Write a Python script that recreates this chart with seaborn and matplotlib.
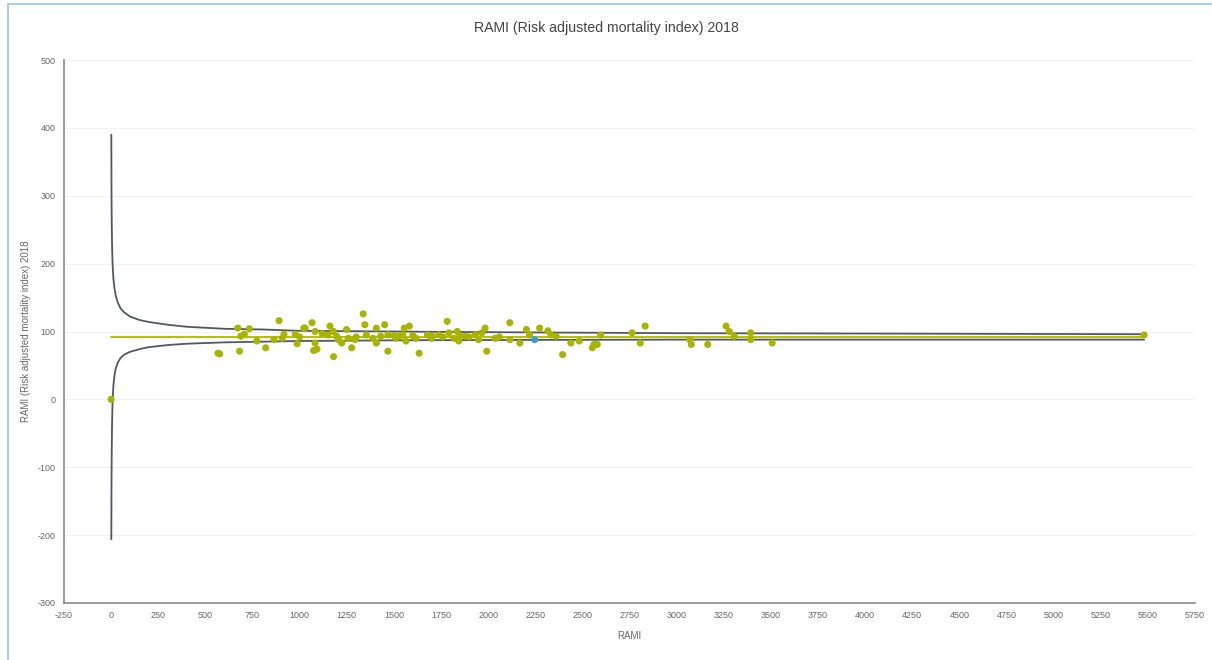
import numpy as np
import pandas as pd
import matplotlib
matplotlib.use('Agg')
import matplotlib.pyplot as plt
import seaborn as sns

# hospitals: number of cases (x) vs RAMI (y)
rami_x = [0, 567, 576, 672, 688, 681, 733, 707, 773, 820, 864, 891, 917, 908, 977, 987, 1029,
          1022, 1066, 1082, 1082, 1074, 1092, 1161, 1180, 1197, 1206, 1180, 1223, 1249, 1258,
          1276, 1293, 1337, 1346, 1354, 1389, 1407, 1407, 1451, 1468, 1468, 1512, 1547, 1555,
          1529, 1582, 1564, 1634, 1617, 1678, 1704, 1739, 1783, 1792, 1818, 1836, 1844, 1879,
          1932, 1949, 1984, 1993, 1967, 2037, 2115, 2203, 2220, 2273, 2317, 2334, 2115, 2168,
          2361, 2395, 2439, 2483, 2553, 2562, 2597, 2579, 2763, 2807, 2833, 3069, 3078, 3165,
          3262, 3279, 3305, 3393, 3393, 3507, 5480,
          1000, 1120, 1150, 1300, 1430, 1500, 1600, 1700, 1760, 1850, 1900, 2060]
rami_y = [0, 68, 67, 105, 93, 71, 104, 96, 86, 76, 88, 116, 96, 90, 96, 82, 105,
          105, 113, 100, 83, 72, 74, 108, 100, 93, 88, 63, 83, 103, 90,
          76, 88, 126, 110, 95, 90, 105, 83, 110, 95, 71, 90, 95, 105,
          93, 108, 86, 68, 90, 95, 93, 95, 115, 98, 90, 100, 86, 93,
          95, 88, 105, 71, 98, 90, 113, 103, 95, 105, 101, 95, 88, 83,
          93, 66, 83, 86, 76, 81, 95, 81, 98, 83, 108, 88, 81, 81,
          108, 100, 93, 98, 88, 83, 95,
          92, 97, 95, 92, 93, 94, 94, 90, 92, 94, 92, 92]

# the highlighted hospital
blue_x = [2247]
blue_y = [88]

# funnel control limits
limit_x = [1, 2, 3, 5, 8, 12, 18, 25, 35, 50, 70, 100, 150, 200, 300, 400, 600, 800,
           1000, 1500, 2000, 3000, 4000, 5480]
upper = [390, 303, 265, 226, 198, 178, 163, 152, 143, 134, 128, 122, 117, 114, 110, 107,
         104, 103, 101, 100, 99, 97.5, 97, 96]
lower = [-206, -120, -80, -35, 0, 20, 36, 46, 54, 61, 66, 70, 74, 77, 80, 82,
         84, 85, 86, 87, 87.5, 88, 88, 88]

# average line
mean_x = [0, 5480]
mean_y = [92.5, 92.5]

sns.set_theme(style="white")
plt.rcParams['font.family'] = ['Liberation Sans', 'DejaVu Sans']
plt.rcParams['axes.unicode_minus'] = False

fig = plt.figure(figsize=(12.12, 6.6), dpi=100)
ax = fig.add_axes([64 / 1212, 57 / 660, (1195 - 64) / 1212, (603 - 60) / 660])

ax.grid(axis='y', color='#f2f2f2', linewidth=0.8)
ax.set_axisbelow(True)

sns.lineplot(x=limit_x, y=upper, ax=ax, color='#4f5864', linewidth=1.3)
sns.lineplot(x=limit_x, y=lower, ax=ax, color='#4f5864', linewidth=1.3)
sns.lineplot(x=mean_x, y=mean_y, ax=ax, color='#b8c200', linewidth=1.5)

pts = pd.DataFrame({'x': rami_x, 'y': rami_y})
sns.scatterplot(data=pts, x='x', y='y', ax=ax, color='#a8b400', s=26,
                edgecolor='none', zorder=3)
sns.scatterplot(x=blue_x, y=blue_y, ax=ax, color='#3d9ad8', s=26,
                edgecolor='none', zorder=4)

ax.set_xlim(-250, 5750)
ax.set_ylim(-300, 500)
ax.set_xticks(np.arange(-250, 5751, 250))
ax.set_yticks(np.arange(-300, 501, 100))
ax.tick_params(axis='both', labelsize=6.5, colors='#666666', length=0, pad=6)

for side in ['top', 'right']:
    ax.spines[side].set_visible(False)
for side in ['left', 'bottom']:
    ax.spines[side].set_color('#8a8a8a')
    ax.spines[side].set_linewidth(1.2)

ax.set_xlabel('RAMI', fontsize=7, color='#666666', labelpad=8)
ax.set_ylabel('RAMI (Risk adjusted mortality index) 2018', fontsize=7,
              color='#666666', labelpad=5)
fig.text(0.5, 1 - 28 / 660, 'RAMI (Risk adjusted mortality index) 2018',
         ha='center', va='center', fontsize=10.2, color='#444444')

# light blue frame around the screenshot
fig.add_artist(plt.Rectangle((8 / 1212, -0.01), 1.02, 1 - 4 / 660 + 0.01,
                             transform=fig.transFigure, fill=False,
                             edgecolor='#9cc3e6', linewidth=1.2))

fig.savefig('out.png', dpi=100)
